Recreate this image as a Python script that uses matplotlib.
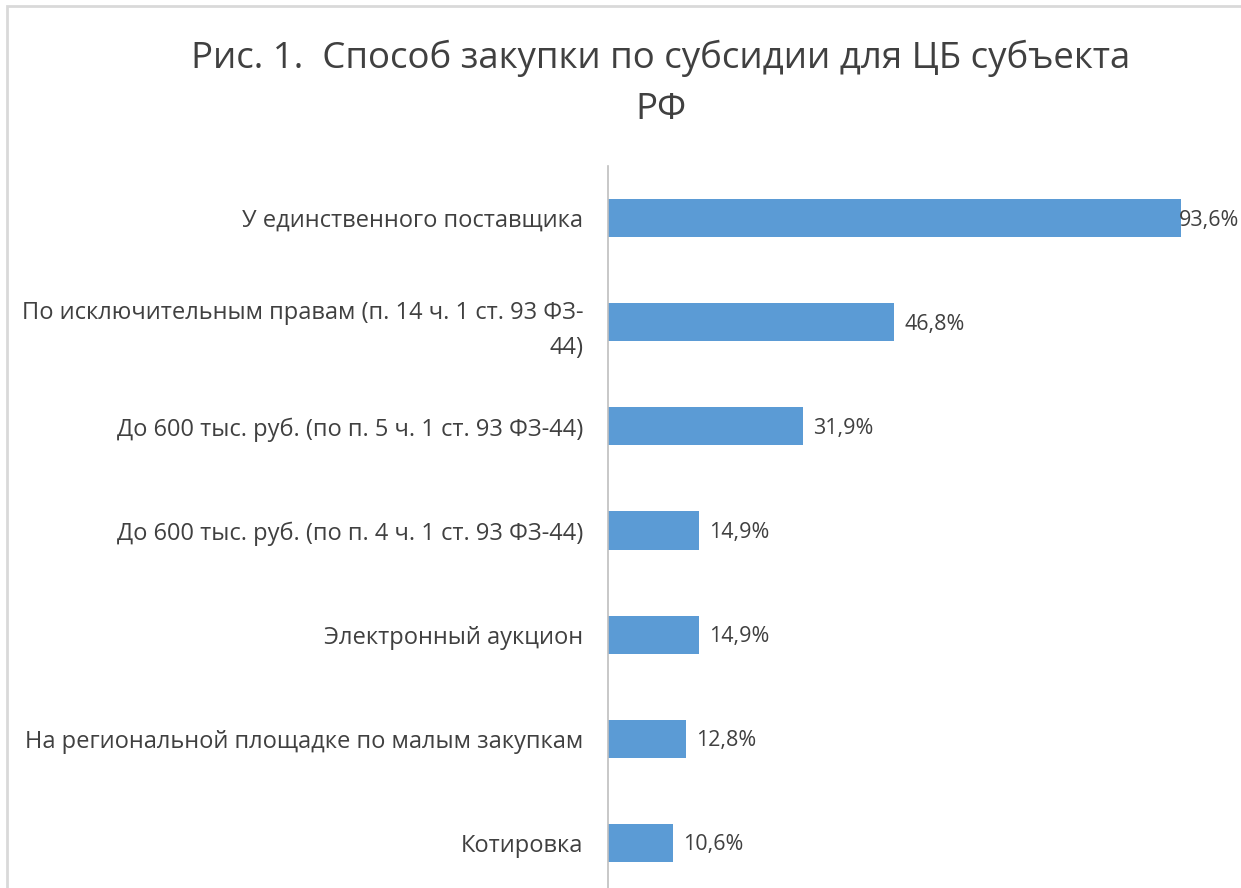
import matplotlib
matplotlib.use('Agg')
import matplotlib.pyplot as plt
from matplotlib.patches import Rectangle
from matplotlib.transforms import blended_transform_factory

# данные с диаграммы (сверху вниз)
categories = [
    'У единственного поставщика',
    'По исключительным правам (п. 14 ч. 1 ст. 93 ФЗ-\n44)',
    'До 600 тыс. руб. (по п. 5 ч. 1 ст. 93 ФЗ-44)',
    'До 600 тыс. руб. (по п. 4 ч. 1 ст. 93 ФЗ-44)',
    'Электронный аукцион',
    'На региональной площадке по малым закупкам',
    'Котировка',
]
values = [93.6, 46.8, 31.9, 14.9, 14.9, 12.8, 10.6]
value_labels = ['93,6%', '46,8%', '31,9%', '14,9%', '14,9%', '12,8%', '10,6%']
title = 'Рис. 1.  Способ закупки по субсидии для ЦБ субъекта\nРФ'

plt.rcParams['font.family'] = ['Open Sans', 'DejaVu Sans']
text_color = '#404040'
bar_color = '#5B9BD5'

W, H = 1241, 888
fig = plt.figure(figsize=(W / 100, H / 100), dpi=100)
fig.patch.set_facecolor('white')

# область графика
ax = fig.add_axes([608 / W, (H - 895) / H, 612 / W, 729 / H])
ypos = list(range(len(categories)))
ax.barh(ypos, values, height=0.365, color=bar_color, zorder=2)
ax.set_xlim(0, 100)
ax.set_ylim(len(categories) - 0.5, -0.5)

for s in ['top', 'right', 'bottom']:
    ax.spines[s].set_visible(False)
ax.spines['left'].set_color('#bfbfbf')
ax.spines['left'].set_linewidth(1.2)
ax.set_xticks([])
ax.set_yticks(ypos)
ax.set_yticklabels(categories, fontsize=17, color=text_color, linespacing=1.58)
ax.tick_params(axis='y', length=0, pad=18)

# подписи данных; если не влезает — прижать к правому краю
edge = blended_transform_factory(fig.transFigure, ax.transData)
for y, v, lab in zip(ypos, values, value_labels):
    t = ax.annotate(lab, (v, y), xytext=(10, -2), textcoords='offset pixels',
                    ha='left', va='center', fontsize=15.5, color=text_color)
    fig.canvas.draw()
    if t.get_window_extent().x1 > 1239:
        t.remove()
        ax.text(1239 / W, y + 0.02, lab, transform=edge, ha='right', va='center',
                fontsize=15.5, color=text_color)

fig.text(661 / W, 1 - 84 / H, title, ha='center', va='center', fontsize=26.4,
         color=text_color, linespacing=1.58)

# рамка диаграммы
fig.add_artist(Rectangle((7 / W, -0.1), 1.2, 1.1 - 6 / H, transform=fig.transFigure,
                         fill=False, ec='#d9d9d9', lw=2))

fig.savefig('out.png', dpi=100)
